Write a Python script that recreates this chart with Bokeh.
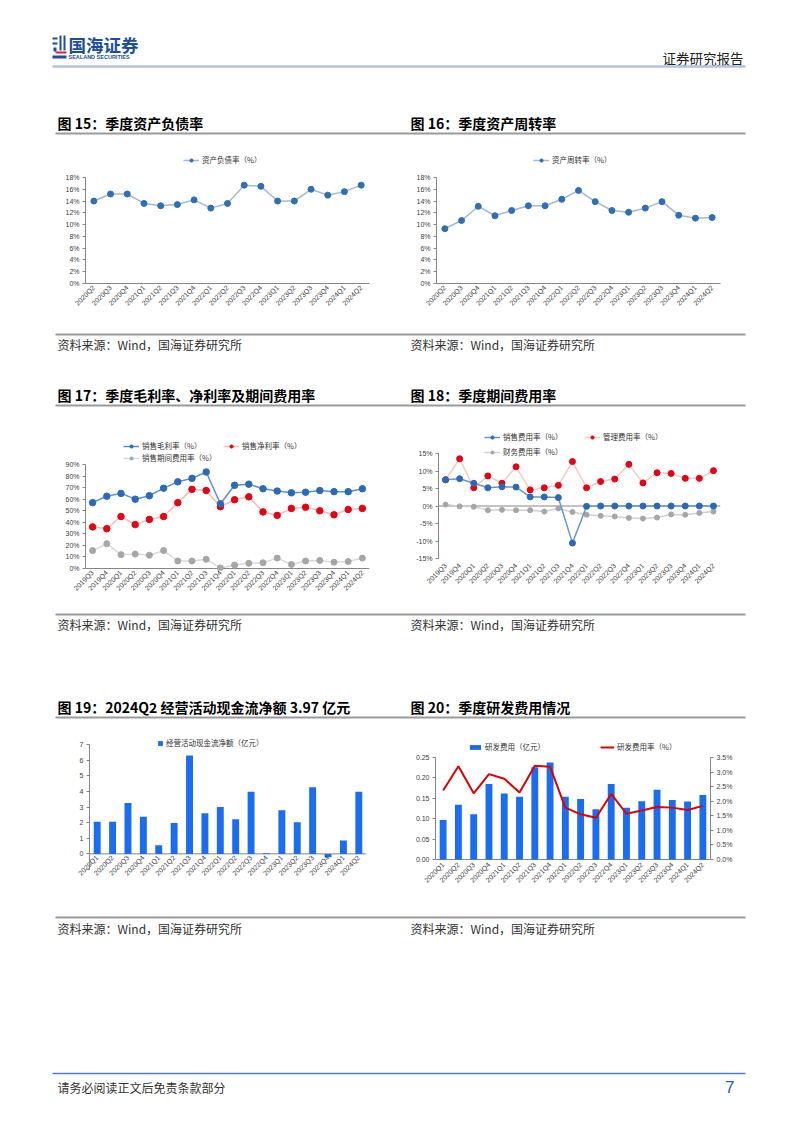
import math
from bokeh.plotting import figure
from bokeh.models import (Range1d, FactorRange, FixedTicker, PrintfTickFormatter,
                          Legend, LegendItem, LinearAxis, Span, Label, ColumnDataSource)
from bokeh.layouts import column, row
from bokeh.embed import file_html
from bokeh.resources import INLINE
from bokeh.core.properties import value

# ---------------- data ----------------
quarters_a = ["2020Q2", "2020Q3", "2020Q4", "2021Q1", "2021Q2", "2021Q3", "2021Q4",
              "2022Q1", "2022Q2", "2022Q3", "2022Q4", "2023Q1", "2023Q2", "2023Q3",
              "2023Q4", "2024Q1", "2024Q2"]
debt_ratio = [14.0, 15.2, 15.2, 13.6, 13.2, 13.4, 14.2, 12.8, 13.6, 16.7, 16.5,
              14.0, 14.0, 16.0, 15.0, 15.6, 16.7]
asset_turnover = [9.3, 10.7, 13.1, 11.5, 12.4, 13.2, 13.2, 14.3, 15.8, 13.9, 12.4,
                  12.1, 12.8, 13.9, 11.6, 11.1, 11.2]

quarters_b = ["2019Q3", "2019Q4", "2020Q1", "2020Q2", "2020Q3", "2020Q4", "2021Q1",
              "2021Q2", "2021Q3", "2021Q4", "2022Q1", "2022Q2", "2022Q3", "2022Q4",
              "2023Q1", "2023Q2", "2023Q3", "2023Q4", "2024Q1", "2024Q2"]
gross_margin = [57.0, 62.5, 65.0, 60.0, 63.0, 69.5, 75.0, 78.0, 83.5, 56.0, 72.0,
                73.0, 69.0, 67.0, 65.5, 66.0, 67.5, 66.5, 66.5, 69.0]
net_margin = [36.0, 34.5, 45.0, 38.0, 42.5, 45.0, 57.0, 68.5, 67.5, 53.5, 59.5,
              62.0, 49.0, 46.0, 52.0, 53.0, 50.0, 46.5, 51.0, 52.0]
period_expense = [15.5, 21.5, 12.0, 12.5, 11.5, 15.5, 6.5, 6.5, 8.0, 0.5, 3.0,
                  4.5, 5.0, 9.0, 3.5, 6.5, 7.0, 5.5, 6.0, 9.0]
selling_exp = [7.5, 7.8, 6.5, 5.2, 5.5, 5.4, 2.6, 2.6, 2.4, -10.6, -0.1, 0.0,
               0.0, 0.0, 0.0, 0.0, 0.0, 0.0, 0.0, 0.0]
admin_exp = [7.5, 13.5, 5.2, 8.6, 6.5, 11.2, 4.6, 5.2, 5.9, 12.7, 5.2, 7.0,
             7.7, 11.9, 6.6, 9.5, 9.3, 7.9, 7.9, 10.1]
finance_exp = [0.4, -0.1, -0.2, -1.2, -1.1, -1.2, -1.2, -1.6, -0.7, -1.7, -2.5,
               -2.8, -3.0, -3.4, -3.6, -3.3, -2.4, -2.5, -2.0, -1.6]

quarters_c = ["2020Q1", "2020Q2", "2020Q3", "2020Q4", "2021Q1", "2021Q2", "2021Q3",
              "2021Q4", "2022Q1", "2022Q2", "2022Q3", "2022Q4", "2023Q1", "2023Q2",
              "2023Q3", "2023Q4", "2024Q1", "2024Q2"]
op_cash_flow = [2.05, 2.05, 3.25, 2.38, 0.56, 1.98, 6.30, 2.60, 3.00, 2.22, 3.97,
                0.04, 2.80, 2.02, 4.27, -0.22, 0.85, 3.97]
rd_expense = [0.097, 0.134, 0.111, 0.185, 0.162, 0.154, 0.226, 0.238, 0.154, 0.148,
              0.123, 0.185, 0.127, 0.143, 0.171, 0.146, 0.142, 0.158]
rd_rate = [2.37, 3.20, 2.27, 2.93, 2.77, 2.30, 3.22, 3.18, 1.78, 1.55, 1.43, 2.25,
           1.57, 1.68, 1.80, 1.78, 1.70, 1.84]

ticks_pct18 = [0, 2, 4, 6, 8, 10, 12, 14, 16, 18]
ticks_pct90 = [0, 10, 20, 30, 40, 50, 60, 70, 80, 90]
ticks_pct15 = [-15, -10, -5, 0, 5, 10, 15]
ticks_cash = [-1, 0, 1, 2, 3, 4, 5, 6, 7]
ticks_rd = [0.0, 0.05, 0.10, 0.15, 0.20, 0.25]
ticks_rd_rate = [0.0, 0.5, 1.0, 1.5, 2.0, 2.5, 3.0, 3.5]

# ---------------- styles ----------------
CJK = "Noto Sans CJK SC"
LAT = "Liberation Sans"
AX = "#868686"
TICK_TXT = "#404040"
PAGE_W = 802
LW = 400          # left column width
RW = PAGE_W - LW  # right column width


def band(y_top, y_bot):
    p = figure(width=PAGE_W, height=y_bot - y_top, x_range=Range1d(0, PAGE_W),
               y_range=Range1d(y_bot, y_top), x_axis_type=None, y_axis_type=None,
               output_backend="svg", toolbar_location=None, min_border=0,
               outline_line_color=None)
    return p


def txt(p, x, y, s, size, color="#000000", font=CJK, style="normal", align="left"):
    p.text(x=[x], y=[y], text=[s], text_font=value(font), text_font_size=size,
           text_color=color, text_font_style=style, text_align=align,
           text_baseline="middle")


def hline(p, y, color="#9a9a9a", width=2, x0=55, x1=745):
    p.segment(x0=[x0], y0=[y], x1=[x1], y1=[y], line_color=color, line_width=width)


def chart(width, height, factors, yr, l, r, t, b):
    p = figure(width=width, height=height, x_range=FactorRange(factors=factors),
               y_range=Range1d(*yr), output_backend="svg", toolbar_location=None,
               min_border_left=l, min_border_right=r, min_border_top=t,
               min_border_bottom=b, outline_line_color=None)
    p.grid.visible = False
    return p


def style_axes(p):
    for ax in p.axis:
        ax.axis_line_color = AX
        ax.major_tick_line_color = AX
        ax.minor_tick_line_color = None
        ax.major_tick_in = 0
        ax.major_tick_out = 3
        ax.major_label_text_font = LAT
        ax.major_label_text_font_size = "7px"
        ax.major_label_text_color = TICK_TXT
        ax.major_label_standoff = 3
    for ax in p.xaxis:
        ax.major_label_orientation = math.pi / 4
        ax.major_tick_out = 0


def zero_line(p, **kw):
    p.add_layout(Span(location=0, dimension="width", line_color=AX, line_width=1,
                      level="underlay", **kw))


def add_legend(p, label, renderers, loc, gw=16, gh=8, size="7.5px"):
    lg = Legend(items=[LegendItem(label=label, renderers=renderers)], location=loc,
                padding=0, margin=0, spacing=0, glyph_width=gw, glyph_height=gh,
                label_height=10, label_standoff=3, label_text_font=CJK,
                label_text_font_size=size, label_text_color="#333333",
                background_fill_alpha=0, border_line_alpha=0)
    p.add_layout(lg)


def line_series(p, x, y, lc, mc, size=6):
    src = ColumnDataSource(dict(x=x, y=y))
    ln = p.line("x", "y", source=src, line_color=lc, line_width=1.5)
    sc = p.scatter("x", "y", source=src, size=size, fill_color=mc, line_color=mc)
    return [ln, sc]


# ---------------- chart 15 ----------------
sc15 = 106 / 18.0
c15 = chart(LW, 190, quarters_a, (0, 18 + 27 / sc15), 85, 31, 10, 47)
r15 = line_series(c15, quarters_a, debt_ratio, "#a6b6dc", "#2e6fb7")
c15.yaxis.ticker = FixedTicker(ticks=ticks_pct18)
c15.yaxis.formatter = PrintfTickFormatter(format="%d%%")
c15.yaxis.bounds = (0, 18)
style_axes(c15)
add_legend(c15, "资产负债率（%）", r15, (98, 118))

# ---------------- chart 16 ----------------
c16 = chart(RW, 190, quarters_a, (0, 18 + 27 / sc15), 36, 82, 10, 47)
r16 = line_series(c16, quarters_a, asset_turnover, "#a6b6dc", "#2e6fb7")
c16.yaxis.ticker = FixedTicker(ticks=ticks_pct18)
c16.yaxis.formatter = PrintfTickFormatter(format="%d%%")
c16.yaxis.bounds = (0, 18)
style_axes(c16)
add_legend(c16, "资产周转率（%）", r16, (97, 118))

# ---------------- chart 17 ----------------
sc17 = 104 / 90.0
c17 = chart(LW, 198, quarters_b, (-2 / sc17, 90 + 44 / sc17), 85, 31, 8, 40)
zero_line(c17)
r17a = line_series(c17, quarters_b, period_expense, "#d9d9d9", "#a6a6a6", 6)
r17b = line_series(c17, quarters_b, net_margin, "#f5bdb5", "#e60012", 6.5)
r17c = line_series(c17, quarters_b, gross_margin, "#5a8fd6", "#2a6ab8", 6.5)
c17.yaxis.ticker = FixedTicker(ticks=ticks_pct90)
c17.yaxis.formatter = PrintfTickFormatter(format="%d%%")
c17.yaxis.bounds = (0, 90)
style_axes(c17)
c17.xaxis.axis_line_color = None
c17.xaxis.major_label_standoff = 1
add_legend(c17, "销售毛利率（%）", r17c, (38, 119))
add_legend(c17, "销售净利率（%）", r17b, (138, 119))
add_legend(c17, "销售期间费用率（%）", r17a, (38, 107))

# ---------------- chart 18 ----------------
sc18 = 105 / 30.0
c18 = chart(RW, 198, quarters_b, (-15 - 12 / sc18, 15 + 33 / sc18), 38, 82, 8, 40)
zero_line(c18)
r18c = line_series(c18, quarters_b, finance_exp, "#d0d0d0", "#a6a6a6", 5)
r18b = line_series(c18, quarters_b, admin_exp, "#f7c9bd", "#e60012", 6)
r18a = line_series(c18, quarters_b, selling_exp, "#6b93cf", "#2a6ab8", 6)
c18.yaxis.ticker = FixedTicker(ticks=ticks_pct15)
c18.yaxis.formatter = PrintfTickFormatter(format="%d%%")
c18.yaxis.bounds = (-15, 15)
style_axes(c18)
c18.xaxis.axis_line_color = None
c18.xaxis.major_label_standoff = -6
add_legend(c18, "销售费用率（%）", r18a, (46, 128))
add_legend(c18, "管理费用率（%）", r18b, (146, 128))
add_legend(c18, "财务费用率（%）", r18c, (46, 113))

# ---------------- chart 19 ----------------
sc19 = 125 / 8.0
c19 = chart(LW, 187, quarters_c, (-1, 7 + 14 / sc19), 89, 34, 5, 43)
zero_line(c19)
src19 = ColumnDataSource(dict(x=quarters_c, y=op_cash_flow))
b19 = c19.vbar(x="x", top="y", bottom=0, width=0.45, source=src19,
               fill_color="#1a6cf0", line_color=None)
c19.yaxis.ticker = FixedTicker(ticks=ticks_cash)
c19.yaxis.formatter = PrintfTickFormatter(format="%d")
c19.yaxis.major_label_overrides = {-1: " "}
c19.yaxis.bounds = (-1, 7)
style_axes(c19)
c19.xaxis.axis_line_color = None
c19.xaxis.major_label_standoff = -13
c19.add_layout(Label(x=0, y=-1, x_offset=-7, text="(1)",
                     text_font=LAT, text_font_size="7px", text_color="#c00000",
                     text_align="right", text_baseline="middle"))
add_legend(c19, "经营活动现金流净额（亿元）", [b19], (68, 121), gw=6, gh=6)

# ---------------- chart 20 ----------------
sc20 = 102 / 0.25
sc20r = 102 / 3.5
c20 = chart(RW, 187, quarters_c, (-10 / sc20, 0.25 + 27 / sc20), 35, 92, 5, 43)
c20.extra_y_ranges = {"rate": Range1d(-10 / sc20r, 3.5 + 27 / sc20r)}
zero_line(c20)
src20 = ColumnDataSource(dict(x=quarters_c, y=rd_expense, r=rd_rate))
b20 = c20.vbar(x="x", top="y", bottom=0, width=0.45, source=src20,
               fill_color="#1a6cf0", line_color=None)
l20 = c20.line("x", "r", source=src20, y_range_name="rate", line_color="#e00000",
               line_width=2)
c20.yaxis.ticker = FixedTicker(ticks=ticks_rd)
c20.yaxis.formatter = PrintfTickFormatter(format="%.2f")
c20.yaxis.bounds = (0, 0.25)
ax20 = LinearAxis(y_range_name="rate", ticker=FixedTicker(ticks=ticks_rd_rate),
                  formatter=PrintfTickFormatter(format="%.1f%%"), bounds=(0, 3.5))
c20.add_layout(ax20, "right")
style_axes(c20)
c20.xaxis.axis_line_color = None
c20.xaxis.major_label_standoff = -6
add_legend(c20, "研发费用（亿元）", [b20], (33, 117), gw=14, gh=6)
add_legend(c20, "研发费用率（%）", [l20], (165, 117), gw=14, gh=6)

# ---------------- page bands ----------------
SRC = "资料来源：Wind，国海证券研究所"

bA = band(0, 140)
LOGO_B = "#1c4ea0"
bA.quad(left=[52, 52, 53, 59, 63, 52], right=[57, 57, 56, 61, 65, 66],
        top=[37, 42, 47, 35, 35, 55], bottom=[39, 44, 51, 50, 50, 58],
        fill_color=LOGO_B, line_color=None)
bA.quad(left=[55], right=[66], top=[51], bottom=[53], fill_color="#d9232e", line_color=None)
txt(bA, 68, 44, "国海证券", "17.5px", LOGO_B, style="bold")
txt(bA, 68, 56, "SEALAND SECURITIES", "5.5px", LOGO_B, font=LAT, style="bold")
txt(bA, 743, 57, "证券研究报告", "13.5px", "#222222", align="right")
hline(bA, 66, "#adc3e8", 2.5, 52, 745)
txt(bA, 57, 122, "图 15：季度资产负债率", "14px", style="bold")
txt(bA, 410, 122, "图 16：季度资产周转率", "14px", style="bold")
hline(bA, 133)

bB = band(330, 412)
hline(bB, 334)
txt(bB, 57, 344, SRC, "12px", "#333333")
txt(bB, 410, 344, SRC, "12px", "#333333")
txt(bB, 57, 394, "图 17：季度毛利率、净利率及期间费用率", "14px", style="bold")
txt(bB, 410, 394, "图 18：季度期间费用率", "14px", style="bold")
hline(bB, 405)

bC = band(610, 725)
hline(bC, 614)
txt(bC, 57, 624, SRC, "12px", "#333333")
txt(bC, 410, 624, SRC, "12px", "#333333")
txt(bC, 57, 706, "图 19：2024Q2 经营活动现金流净额 3.97 亿元", "14px", style="bold")
txt(bC, 410, 706, "图 20：季度研发费用情况", "14px", style="bold")
hline(bC, 717)

bD = band(912, 1133)
hline(bD, 917)
txt(bD, 57, 928, SRC, "12px", "#333333")
txt(bD, 410, 928, SRC, "12px", "#333333")
hline(bD, 1073, "#4a7cc8", 1.5, 52, 745)
txt(bD, 57, 1087, "请务必阅读正文后免责条款部分", "12px", "#333333")
txt(bD, 734, 1086, "7", "17px", "#1f5fbf", font=LAT, align="right")

page = column(bA, row(c15, c16), bB, row(c17, c18), bC, row(c19, c20), bD, spacing=0)

open("out.html", "w").write(file_html(page, INLINE))
